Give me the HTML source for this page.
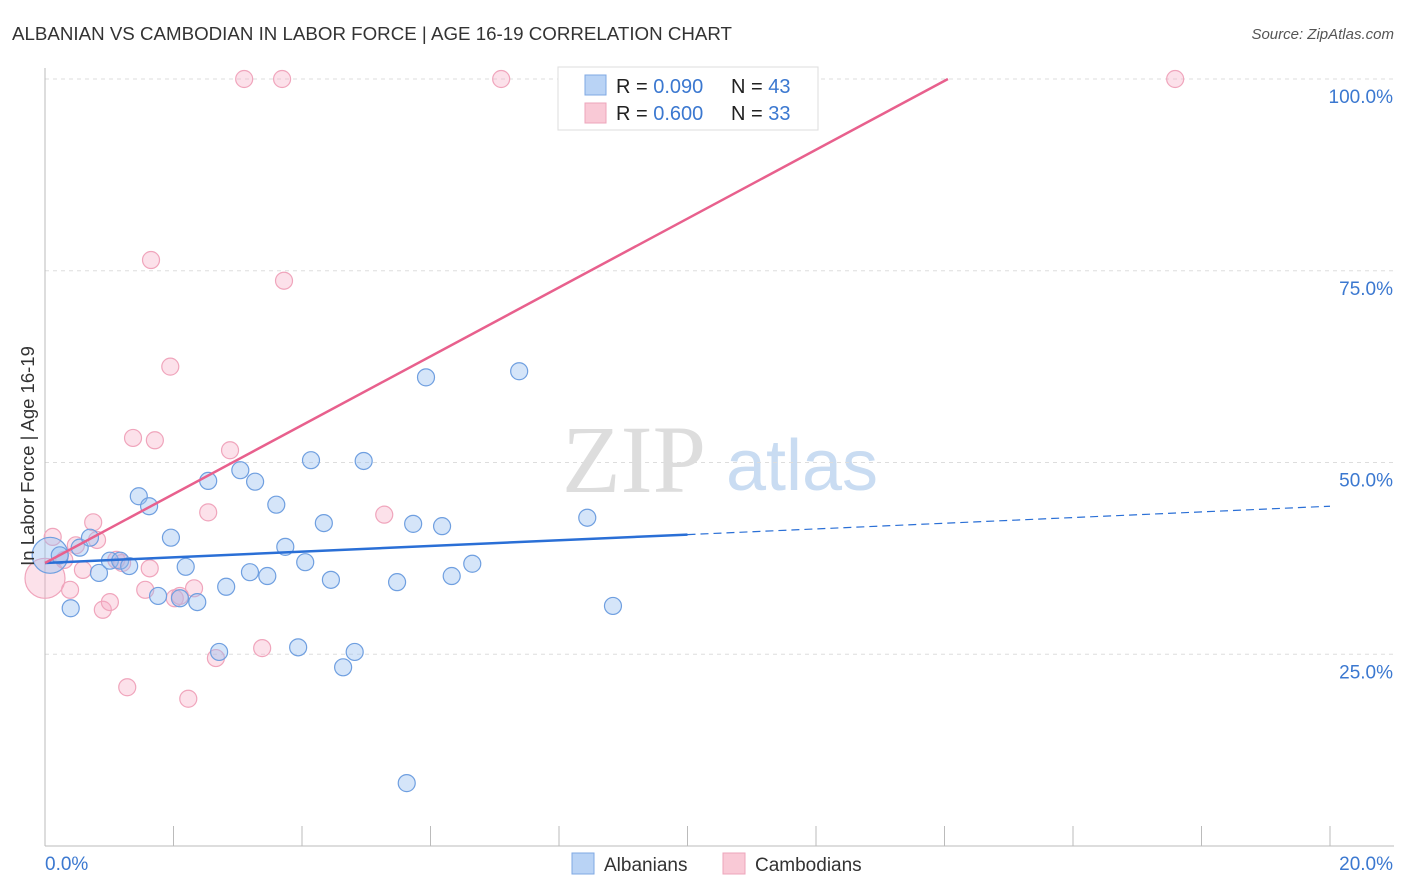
<!DOCTYPE html>
<html><head><meta charset="utf-8"><style>
body{margin:0;background:#fff;font-family:"Liberation Sans",sans-serif;}
svg{display:block}
</style></head><body>
<svg id="chart" width="1406" height="892">
<text x="12" y="40" font-size="18" fill="#333" textLength="720" lengthAdjust="spacingAndGlyphs">ALBANIAN VS CAMBODIAN IN LABOR FORCE | AGE 16-19 CORRELATION CHART</text>
<text x="1394" y="39" font-size="15" fill="#555" font-style="italic" text-anchor="end">Source: ZipAtlas.com</text>
<g>
<text x="634" y="492" font-size="96" fill="#ddd" font-family="Liberation Serif,serif" text-anchor="middle">ZIP</text>
<text x="802" y="490" font-size="72" fill="#c9dcf2" text-anchor="middle">atlas</text>
</g>
<g id="grid"></g>
<g id="axes"></g>
<g id="marks"></g>
<text transform="translate(34,456) rotate(-90)" font-size="18.5" fill="#333" text-anchor="middle">In Labor Force | Age 16-19</text>
<g>
<rect x="558" y="67" width="260" height="63" fill="#fff" stroke="#ddd"/>
<rect x="585" y="75" width="21" height="20" fill="#b9d3f5" stroke="#7fa8e3"/>
<rect x="585" y="103" width="21" height="20" fill="#f9c9d6" stroke="#eda5bb"/>
<text x="616" y="93" font-size="20" fill="#222">R = <tspan fill="#3b78d0">0.090</tspan><tspan x="731">N = </tspan><tspan fill="#3b78d0">43</tspan></text>
<text x="616" y="120" font-size="20" fill="#222">R = <tspan fill="#3b78d0">0.600</tspan><tspan x="731">N = </tspan><tspan fill="#3b78d0">33</tspan></text>
</g>
<g>
<rect x="572" y="853" width="22" height="21" fill="#b9d3f5" stroke="#7fa8e3"/>
<text x="604" y="871" font-size="19" fill="#333">Albanians</text>
<rect x="723" y="853" width="22" height="21" fill="#f9c9d6" stroke="#eda5bb"/>
<text x="755" y="871" font-size="19" fill="#333">Cambodians</text>
</g>
</svg>
<script>
const xTicks=[0,20];
const yTicks=[25,50,75,100];
const blueX=[0.08,0.23,0.40,0.54,0.70,0.84,1.01,1.17,1.31,1.46,1.62,1.76,1.96,2.10,2.19,2.37,2.54,2.71,2.82,3.04,3.19,3.27,3.46,3.60,3.74,3.94,4.05,4.14,4.34,4.45,4.64,4.82,4.96,5.48,5.63,5.73,5.93,6.18,6.33,6.65,7.38,8.44,8.84];
const blueY=[37.9,37.9,31.0,38.9,40.2,35.6,37.2,37.2,36.5,45.6,44.3,32.6,40.2,32.3,36.4,31.8,47.6,25.3,33.8,49.0,35.7,47.5,35.2,44.5,39.0,25.9,37.0,50.3,42.1,34.7,23.3,25.3,50.2,34.4,8.2,42.0,61.1,41.7,35.2,36.8,61.9,42.8,31.3];
const pinkX=[0.0,0.12,0.30,0.39,0.48,0.59,0.75,0.81,0.90,1.01,1.11,1.20,1.28,1.37,1.56,1.63,1.65,1.71,1.95,2.02,2.10,2.23,2.32,2.54,2.66,2.88,3.10,3.38,3.69,3.72,5.28,7.10,17.59];
const pinkY=[34.9,40.3,37.3,33.4,39.2,36.0,42.2,39.9,30.8,31.8,37.3,36.9,20.7,53.2,33.4,36.2,76.4,52.9,62.5,32.3,32.6,19.2,33.6,43.5,24.5,51.6,100,25.8,100,73.7,43.2,100,100];
const blueFit=[36.9,44.3];   // y at x=0 and x=20
const pinkFit=[36.9,4.49];   // intercept, slope
const NS="http://www.w3.org/2000/svg";
const X=v=>45+v*64.25, Y=v=>846-v*7.67;
function mk(tag,attrs,parent){const e=document.createElementNS(NS,tag);for(const k in attrs)e.setAttribute(k,attrs[k]);parent.appendChild(e);return e;}
const grid=document.getElementById('grid'),axes=document.getElementById('axes'),marks=document.getElementById('marks');
yTicks.forEach(t=>{
 const l=mk('line',{x1:45,x2:1394,y1:Y(t),y2:Y(t),stroke:'#ddd','stroke-dasharray':'4,4'},grid);
 
 
 const tx=mk('text',{x:1393,y:Y(t)+24,'font-size':19,fill:'#3b78d0','text-anchor':'end'},axes);tx.textContent=t.toFixed(1)+'%';
 
 
});
mk('line',{x1:45,x2:45,y1:68,y2:846,stroke:'#bbb'},axes);
const xl=mk('line',{x1:45,x2:1394,y1:846,y2:846,stroke:'#bbb'},axes);


for(let i=0;i<=10;i++){mk('line',{x1:X(i*2),x2:X(i*2),y1:826,y2:846,stroke:'#bbb'},axes);}
xTicks.forEach((t,i)=>{const tx=mk('text',{x:i?1393:45,y:870,'font-size':19,fill:'#3b78d0','text-anchor':i?'end':'start'},axes);tx.textContent=t.toFixed(1)+'%';
 
 });
pinkX.forEach((x,i)=>{const c=mk('circle',{cx:X(x),cy:Y(pinkY[i]),r:i==0?20:8.5,fill:'rgba(245,170,195,0.35)',stroke:'#f0a5bc','stroke-width':1.2},marks);
 
 });
blueX.forEach((x,i)=>{const c=mk('circle',{cx:X(x),cy:Y(blueY[i]),r:i==0?18:8.5,fill:'rgba(150,190,240,0.4)',stroke:'#6f9fe0','stroke-width':1.2},marks);
 
 });
const bAt=x=>blueFit[0]+(blueFit[1]-blueFit[0])*x/20;
let l1=mk('line',{x1:X(0),y1:Y(bAt(0)),x2:X(10),y2:Y(bAt(10)),stroke:'#2a6fd6','stroke-width':2.5},marks);


let l2=mk('line',{x1:X(10),y1:Y(bAt(10)),x2:X(20),y2:Y(bAt(20)),stroke:'#2a6fd6','stroke-width':1.2,'stroke-dasharray':'8,5'},marks);


const xEnd=(100-pinkFit[0])/pinkFit[1];
let l3=mk('line',{x1:X(0),y1:Y(pinkFit[0]),x2:X(xEnd),y2:Y(100),stroke:'#e8608d','stroke-width':2.5},marks);


</script>
</body></html>
